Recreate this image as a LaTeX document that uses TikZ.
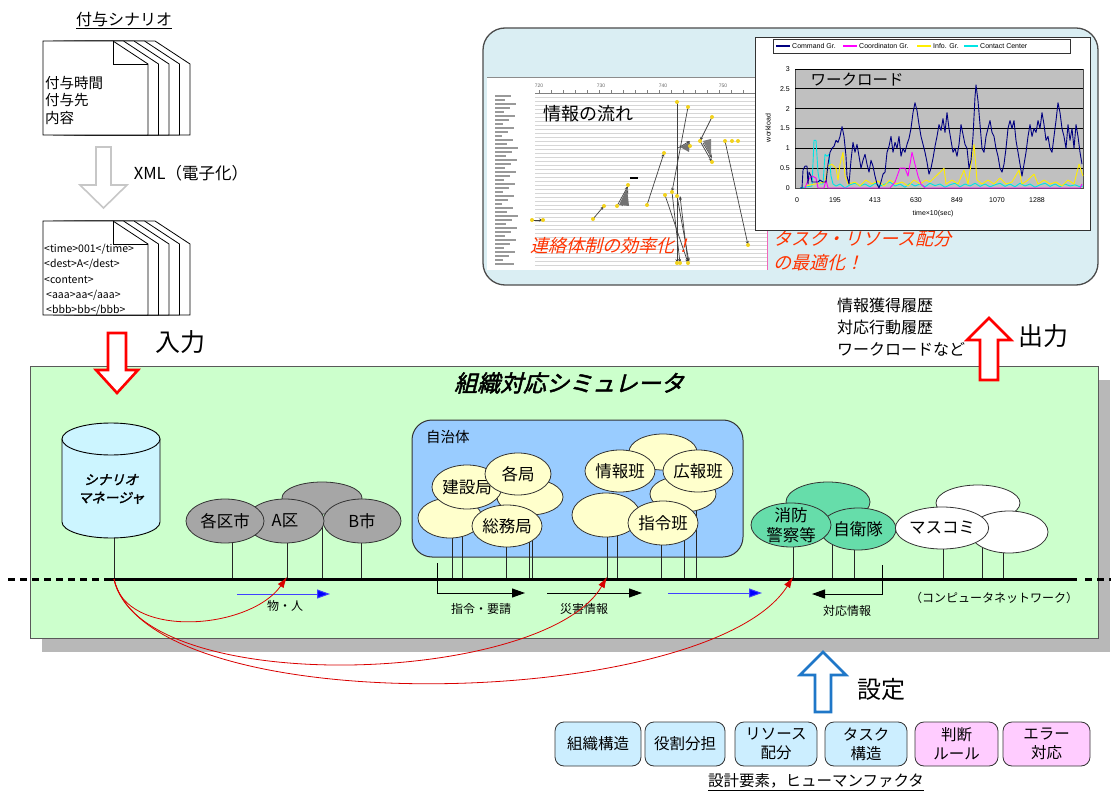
\documentclass[tikz,border=0pt]{standalone}
\usepackage{fontspec}
\setmainfont{Noto Sans CJK JP}
\newfontfamily\jpsl[FakeSlant=0.25]{Noto Sans CJK JP}
\newfontfamily\jpbs[FakeSlant=0.25,FakeBold=2]{Noto Sans CJK JP}
\newfontfamily\lsans{Liberation Sans}
\usetikzlibrary{shapes.geometric,arrows.meta}
\pgfdeclarelayer{bg}
\pgfdeclarelayer{mid}
\pgfsetlayers{bg,mid,main}
\definecolor{boxgreen}{HTML}{CCFFCC}
\definecolor{shadowgrey}{HTML}{B8B8B8}
\definecolor{cylcol}{HTML}{CCF5FF}
\definecolor{greyell}{HTML}{A6A6A6}
\definecolor{jichi}{HTML}{99CCFF}
\definecolor{yell}{HTML}{FFFFCC}
\definecolor{mint}{HTML}{66DDAA}
\definecolor{panel}{HTML}{DAEEF3}
\definecolor{boxblue}{HTML}{CCEEFF}
\definecolor{boxpink}{HTML}{FFCCFF}
\definecolor{setblue}{HTML}{1F77C8}
\definecolor{redtxt}{HTML}{FF3300}
\definecolor{navyline}{HTML}{000080}
\definecolor{plotgrey}{HTML}{C0C0C0}
\definecolor{ydot}{HTML}{F2D21E}
\definecolor{lgmag}{HTML}{FF00FF}
\definecolor{lgyel}{HTML}{FFEE00}
\definecolor{lgcyan}{HTML}{00E5E5}
\begin{document}
\begin{tikzpicture}[x=1pt,y=-1pt,
  ell/.style={ellipse, draw=black!80, line width=0.8pt, inner sep=0pt, font=\fontsize{16.5}{18}\selectfont},
  gell/.style={ell, fill=greyell},
  yel/.style={ell, fill=yell},
  mel/.style={ell, fill=mint},
  wel/.style={ell, fill=white},
  drop/.style={draw=black!85, line width=0.8pt},
  flowarr/.style={line width=1pt, -{Triangle[length=13pt,width=9pt]}},
  smalllbl/.style={font=\fontsize{12}{14}\selectfont, inner sep=1pt},
  hollow/.style={line width=2.6pt, fill=white, line join=miter},
  designbox/.style={draw=black!80, line width=0.8pt, rounded corners=9pt, minimum height=44pt, align=center, font=\fontsize{15.5}{19}\selectfont, inner sep=1pt},
  redcurve/.style={draw=red!85!black, line width=0.8pt, -{Latex[length=11pt,width=7pt]}},
  infoarr/.style={draw=black!75, line width=0.7pt, -{Stealth[length=4pt,width=3pt]}},
  tiny/.style={font=\lsans\fontsize{7}{8}\selectfont, inner sep=1pt},
  dataline/.style={line width=0.9pt, line join=round}
]
\useasboundingbox (0,0) rectangle (1111,794);

% ---------- background layer ----------
\begin{pgfonlayer}{bg}
  \fill[white] (0,0) rectangle (1111,794);
  \fill[shadowgrey] (42,380) rectangle (1110,652);
  \draw[fill=boxgreen, draw=black!65, line width=1pt] (30,366) rectangle (1098,638);
  \node[draw=black!80, line width=1pt, fill=jichi, rounded corners=20pt, minimum width=331pt, minimum height=137pt, inner sep=0pt] (jichitai) at (577.5,488.5) {};
\end{pgfonlayer}

% ---------- scenario documents ----------
\node[font=\fontsize{16}{18}\selectfont] (fuyotitle) at (124,20) {\underline{付与シナリオ}};
\foreach \dy in {0,180} {
  \foreach \k in {4,3,2,1,0} {
    \draw[fill=white, line width=0.8pt] ({43+10.5*\k},{135+\dy}) -- ({43+10.5*\k},{41+\dy}) -- ({113+10.5*\k},{41+\dy}) -- ({148+10.5*\k},{64+\dy}) -- ({148+10.5*\k},{135+\dy}) -- cycle;
  }
  \draw[line width=0.8pt] (113,{41+\dy}) -- (113,{64+\dy}) -- (148,{64+\dy});
}
\node[anchor=west, align=left, font=\fontsize{14.5}{17.5}\selectfont, inner sep=1pt] (doc1txt) at (44,100) {付与時間\\付与先\\内容};
\node[anchor=west, align=left, font=\fontsize{10.5}{15.3}\selectfont, inner sep=1pt] (doc2txt) at (43,280) {<time>001</time>\\<dest>A</dest>\\<content>\\\hspace{2pt}<aaa>aa</aaa>\\\hspace{2pt}<bbb>bb</bbb>};

% grey hollow arrow
\draw[line width=1.6pt, draw=black!22, fill=white] (96,147) -- (111,147) -- (111,185) -- (127,185) -- (103.5,208) -- (80,185) -- (96,185) -- cycle;
\node[font=\fontsize{16.5}{18}\selectfont] (xmltxt) at (191,173) {XML（電子化）};

% input arrow
\draw[hollow, draw=red] (108,333) -- (126,333) -- (126,370) -- (138,370) -- (117,393) -- (96,370) -- (108,370) -- cycle;
\node[font=\fontsize{25}{28}\selectfont] (nyuryoku) at (180,342) {入力};

% ---------- output panel ----------
\draw[fill=panel, draw=black!70, line width=1.3pt, rounded corners=22pt] (483,28) rectangle (1098,285);
\fill[white] (487,78) rectangle (767,270);
\draw[black!45, line width=1pt] (487,78) -- (767,78);
\foreach \yy in {97,101,...,268} \draw[black!16, line width=0.5pt] (535,\yy) -- (767,\yy);
\foreach \yy in {96,100,...,266} {
  \pgfmathsetmacro\w{7+mod(\yy*7,17)}
  \draw[black!40, line width=2pt] (495,\yy) -- ++(\w,0);
}
\draw[black!50, line width=0.6pt] (535,93) -- (767,93);
\foreach \xx in {539,551,...,767} \draw[black!50, line width=0.5pt] (\xx,93) -- (\xx,90);
\foreach \xx/\t in {539/720,601/730,663/740,723/750} \node[font=\lsans\fontsize{5}{5}\selectfont, text=black!60, inner sep=0pt] (ax\t) at (\xx,86) {\t};
% flow arrows
\foreach \a/\b in {{532,220}/{543,220},{593,219}/{604,206},{647,205}/{664,153},{677,102}/{677,263},{688,107}/{672,192},{665,195}/{688,263},{672,192}/{680,263},{677,196}/{689,262},{700,141}/{712,162},{712,117}/{700,141},{725,141}/{748,245},{688,263}/{680,196},{617,206}/{628,186},{622,206}/{628,190},{678,148}/{690,141},{703,143}/{712,158}}
  \draw[infoarr] (\a) -- (\b);
\fill[black!55] (619,205) -- (627,188) -- (629,206) -- cycle;
\fill[black!55] (680,147) -- (690,142) -- (689,152) -- cycle;
\fill[black!50] (703,141) -- (711,139) -- (711,156) -- cycle;
\draw[line width=1.5pt] (630,178) -- (638,178);
\foreach \p in {{532,220},{543,220},{593,219},{604,206},{617,206},{628,185},{647,205},{664,153},{677,102},{688,107},{677,263},{688,263},{665,195},{672,192},{677,196},{700,141},{712,117},{712,162},{725,141},{732,141},{738,141},{748,245},{680,263},{690,146}}
  \fill[ydot] (\p) circle[radius=2];
\node[font=\fontsize{18}{20}\selectfont] (flowtitle) at (588,114) {情報の流れ};
\node[font=\jpsl\fontsize{18}{20}\selectfont, text=redtxt] (renraku) at (611,246) {連絡体制の効率化！};
\draw[magenta!60, line width=0.8pt] (767,230) -- (767,270);
\node[anchor=north west, align=left, font=\jpsl\fontsize{18}{24}\selectfont, text=redtxt, inner sep=0pt] (taskopt) at (773,231) {タスク・リソース配分\\の最適化！};

% workload chart
\draw[fill=white, draw=black!80, line width=0.8pt] (755,37) rectangle (1090,230);
\draw[fill=white, draw=black!80, line width=0.6pt] (773,39) rectangle (1070,53);
\draw[navyline, line width=1.5pt] (776,46) -- (790,46);
\node[tiny, anchor=west] (lg1) at (791,46) {Command Gr.};
\draw[lgmag, line width=1.5pt] (843,46) -- (857,46);
\node[tiny, anchor=west] (lg2) at (858,46) {Coordinaton Gr.};
\draw[lgyel, line width=1.5pt] (917,46) -- (931,46);
\node[tiny, anchor=west] (lg3) at (932,46) {Info. Gr.};
\draw[lgcyan, line width=1.5pt] (964,46) -- (978,46);
\node[tiny, anchor=west] (lg4) at (979,46) {Contact Center};
\draw[fill=plotgrey, draw=black!70, line width=0.6pt] (795,69) rectangle (1083,188);
\foreach \v in {0.5,1,1.5,2,2.5,3} \draw[black, line width=0.8pt] (795,{188-39.67*\v}) -- (1083,{188-39.67*\v});
\foreach \v/\t [count=\i] in {0/0,0.5/0.5,1/1,1.5/1.5,2/2,2.5/2.5,3/3} \node[tiny, anchor=east] (yl\i) at (791,{188-39.67*\v}) {\t};
\foreach \xx/\t [count=\i] in {797/0,835/195,875/413,916/630,957/849,997/1070,1037/1288} \node[tiny] (xl\i) at (\xx,200) {\t};
\node[tiny] (xtitle) at (933,214) {time×10(sec)};
\node[tiny, rotate=90] (ytitle) at (768,128) {workload};
\node[font=\fontsize{15.5}{18}\selectfont] (wltitle) at (857,80) {ワークロード};
\begin{scope}[shift={(0,188)}, y=39.67pt]
  \draw[dataline, lgcyan] plot coordinates {(800,0)(812,0.05)(814,1.2)(816,1.2)(818,0.4)(820,0.1)(823,0.1)(825,0.85)(827,0.8)(829,0.85)(831,0.3)(833,0.1)(836,0.05)(840,0.1)(845,0.0)(850,0.08)(855,0.12)(860,0.05)(865,0.1)(870,0.03)(875,0.12)(880,0.05)(885,0.1)(890,0.15)(895,0.05)(900,0.1)(905,0.02)(910,0.12)(915,0.05)(920,0.1)(925,0.03)(930,0.12)(935,0.06)(940,0.1)(945,0.02)(950,0.08)(955,0.12)(960,0.03)(965,0.1)(970,0.05)(975,0.12)(980,0.04)(985,0.1)(990,0.03)(995,0.08)(1000,0.12)(1005,0.04)(1010,0.1)(1015,0.03)(1020,0.12)(1025,0.05)(1030,0.1)(1035,0.02)(1040,0.08)(1045,0.12)(1050,0.04)(1055,0.1)(1060,0.03)(1065,0.1)(1070,0.05)(1075,0.08)(1080,0.03)(1083,0.05)};
  \draw[dataline, lgyel] plot coordinates {(805,0.05)(815,0.1)(825,0.15)(828,0.55)(832,0.6)(836,0.5)(838,0.2)(840,0.6)(843,0.9)(845,0.3)(848,0.1)(855,0.15)(860,0.05)(866,0.2)(872,0.1)(878,0.18)(884,0.05)(890,0.2)(896,0.1)(902,0.15)(908,0.05)(914,0.2)(920,0.1)(926,0.2)(930,0.15)(944,0.5)(946,0.1)(952,0.2)(958,0.1)(964,0.45)(968,0.1)(974,1.1)(977,0.2)(982,0.1)(988,0.2)(994,0.1)(1000,0.25)(1006,0.1)(1012,0.15)(1019,0.45)(1022,0.1)(1028,0.2)(1034,0.35)(1038,0.1)(1044,0.2)(1050,0.1)(1056,0.15)(1062,0.05)(1068,0.2)(1074,0.1)(1079,0.6)(1083,0.3)};
  \draw[dataline, lgmag] plot coordinates {(805,0)(808,0.2)(812,0.3)(816,0.25)(818,0)(824,0)(826,0.2)(828,0)(890,0)(895,0.15)(900,0.5)(905,0.5)(908,0.3)(912,0.9)(915,0.6)(918,0.3)(921,0.1)(925,0)(1080,0)(1082,0.1)};
  \draw[dataline, navyline] plot coordinates {(800,0)(802,0)(803,0.45)(805,0.55)(807,0.55)(808,0.1)(809,0.4)(811,0.3)(812,0.15)(815,0.15)(818,0.15)(820,0.2)(823,0.15)(826,0.15)(828,0.6)(830,0.9)(832,1.0)(834,1.05)(836,1.2)(838,1.15)(840,1.3)(842,1.55)(844,1.3)(846,0.8)(847,0.3)(849,0.1)(851,0.7)(853,1.15)(855,0.9)(857,1.1)(859,0.8)(861,0.5)(863,0.7)(865,0.85)(867,0.6)(869,0.4)(871,0.7)(873,0.55)(875,0.3)(877,0.1)(879,0.0)(881,0.15)(883,0.35)(885,0.4)(887,0.9)(889,1.05)(891,1.3)(893,0.9)(895,1.15)(897,1.0)(899,1.3)(901,0.8)(903,1.0)(905,0.9)(907,1.1)(909,1.25)(911,1.5)(913,1.9)(915,2.15)(917,1.95)(919,1.6)(921,1.3)(923,1.1)(925,0.9)(927,0.65)(929,0.35)(931,0.5)(933,0.75)(935,1.05)(937,1.3)(939,1.6)(941,1.45)(943,1.75)(945,1.4)(947,1.9)(949,1.5)(951,1.2)(953,0.9)(955,1.0)(957,0.8)(959,1.1)(961,1.6)(963,1.35)(965,1.1)(967,1.0)(969,0.5)(971,0.7)(973,1.3)(975,2.3)(976,2.6)(978,2.2)(980,1.6)(982,1.0)(984,0.9)(986,1.3)(988,1.5)(990,1.7)(992,1.4)(994,1.3)(996,1.0)(998,0.8)(1000,0.5)(1002,0.4)(1004,0.6)(1006,1.0)(1008,1.5)(1010,1.7)(1012,1.5)(1014,1.7)(1016,1.2)(1018,0.9)(1020,0.6)(1022,0.3)(1024,0.6)(1026,0.9)(1028,1.3)(1030,1.6)(1032,1.3)(1034,1.5)(1036,1.4)(1038,1.7)(1040,1.5)(1042,1.9)(1044,1.6)(1046,1.2)(1048,1.3)(1050,1.0)(1052,0.9)(1054,1.3)(1056,1.7)(1058,2.15)(1060,1.9)(1062,1.5)(1064,1.3)(1066,1.0)(1068,1.6)(1070,1.2)(1072,1.5)(1074,1.0)(1076,1.6)(1078,1.3)(1080,0.9)(1082,0.6)};
\end{scope}

% output text and arrow
\node[anchor=west, align=left, font=\fontsize{16}{22}\selectfont, inner sep=0pt] (outtxt) at (837,327) {情報獲得履歴\\対応行動履歴\\ワークロードなど};
\draw[hollow, draw=red] (980,380) -- (980,340) -- (967,340) -- (989,318) -- (1011,340) -- (998,340) -- (998,380) -- cycle;
\node[font=\fontsize{25}{28}\selectfont] (shutsuryoku) at (1043,336) {出力};

% ---------- simulator ----------
\node[font=\jpbs\fontsize{23}{26}\selectfont] (simtitle) at (569,383) {組織対応シミュレータ};

% cylinder
\draw[fill=cylcol, line width=0.9pt] (62,439) -- (62,522) arc[start angle=180, end angle=0, x radius=49, y radius=16] -- (160,439) -- cycle;
\draw[fill=cylcol, line width=0.9pt] (111,439) ellipse[x radius=49, y radius=16];
\node[align=center, font=\jpbs\fontsize{13.5}{18}\selectfont] (scen) at (111,489) {シナリオ\\マネージャ};

% grey group
\node[gell, minimum width=80pt, minimum height=32pt] (gtop) at (322,498) {};
\node[gell, minimum width=78pt, minimum height=44pt] (bshi) at (362,521) {B市};
\node[gell, minimum width=78pt, minimum height=44pt] (aku) at (285,521) {A区};
\node[gell, minimum width=78pt, minimum height=44pt] (kakushi) at (225,521) {各区市};
\node[font=\fontsize{14.5}{16}\selectfont, anchor=west, inner sep=0pt] (jichilbl) at (426,437) {自治体};

% yellow group left
\node[yel, minimum width=64pt, minimum height=40pt] (ya) at (450,518) {};
\node[yel, minimum width=66pt, minimum height=36pt] (yb) at (530,497) {};
\node[yel, minimum width=66pt, minimum height=44pt] (kensetsu) at (467,487) {建設局};
\node[yel, minimum width=66pt, minimum height=42pt] (kakukyoku) at (518,474) {各局};
\node[yel, minimum width=68pt, minimum height=42pt] (somu) at (507,526) {総務局};
% yellow group right
\node[yel, minimum width=68pt, minimum height=36pt] (yc) at (663,452) {};
\node[yel, minimum width=66pt, minimum height=36pt] (yd) at (683,494) {};
\node[yel, minimum width=68pt, minimum height=44pt] (ye) at (606,515) {};
\node[yel, minimum width=70pt, minimum height=42pt] (jouhou) at (620,471) {情報班};
\node[yel, minimum width=68pt, minimum height=42pt] (kouhou) at (698,471) {広報班};
\node[yel, minimum width=68pt, minimum height=44pt] (shirei) at (663,523) {指令班};

% green group
\node[mel, minimum width=84pt, minimum height=40pt] (gt) at (828,502) {};
\node[mel, minimum width=76pt, minimum height=42pt] (jieitai) at (858,529) {自衛隊};
\node[mel, minimum width=80pt, minimum height=44pt] (shobo) at (791,525) {};
\node[align=center, font=\fontsize{16.5}{20}\selectfont, inner sep=0pt] (shobotxt) at (shobo) {消防\\警察等};

% white group
\node[wel, minimum width=84pt, minimum height=36pt] (wt) at (978,503) {};
\node[wel, minimum width=78pt, minimum height=42pt] (wr) at (1009,532) {};
\node[wel, minimum width=84pt, minimum height=42pt] (masukomi) at (942,528) {マスコミ};

% network
\coordinate (netS) at (8,579);
\coordinate (netL) at (110,579);
\coordinate (netR) at (1077,579);
\coordinate (netE) at (1111,579);
\draw[line width=3pt, dash pattern=on 7pt off 5pt] (netS) -- (netL);
\draw[line width=3pt] (netL) -- (netR);
\draw[line width=3pt, dash pattern=on 7pt off 5pt] ([xshift=8pt]netR) -- (netE);

% drop lines
\foreach \x/\n [count=\i] in {114/scen,232/kakushi,287/aku,322/gtop,361/bshi,452/ya,462/ya,506/somu,529/yb,532/yb,607/ye,617/ye,661/shirei,684/yd,696/kouhou,793/shobo,832/jieitai,854/jieitai,943/masukomi,982/wr,1003/wr}
  \coordinate (d\i) at (\x,579);
\begin{pgfonlayer}{mid}
\foreach \n [count=\i] in {scen,kakushi,aku,gtop,bshi,ya,ya,somu,yb,yb,ye,ye,shirei,yd,kouhou,shobo,jieitai,jieitai,masukomi,wr,wr}
  \draw[drop] (d\i) -- (d\i |- \n);
\end{pgfonlayer}

% flow arrows under the network
\coordinate (a1s) at (237,594); \coordinate (a1e) at (330,594);
\coordinate (a2s) at (437,563); \coordinate (a2e) at (525,593);
\coordinate (a3s) at (547,593); \coordinate (a3e) at (642,593);
\coordinate (a4s) at (668,593); \coordinate (a4e) at (762,593);
\coordinate (a5s) at (882,565); \coordinate (a5e) at (812,594);
\draw[flowarr, blue!75, -{Triangle[length=13pt,width=9pt,fill=blue]}] (a1s) -- (a1e);
\draw[flowarr] (a2s) |- (a2e);
\draw[flowarr] (a3s) -- (a3e);
\draw[flowarr, blue!75, -{Triangle[length=13pt,width=9pt,fill=blue]}] (a4s) -- (a4e);
\draw[flowarr] (a5s) |- (a5e);
\node[smalllbl] (lbl1) at (285,606) {物・人};
\node[smalllbl] (lbl2) at (481,609) {指令・要請};
\node[smalllbl] (lbl3) at (584,609) {災害情報};
\node[smalllbl] (lbl4) at (847,611) {対応情報};
\node[smalllbl] (lbl5) at (994,598) {（コンピュータネットワーク）};

% red scenario curves
\draw[redcurve] (d1) .. controls (125,640) and (250,630) .. ([yshift=2pt]d3);
\draw[redcurve] (d1) .. controls (140,700) and (545,685) .. ([yshift=2pt]d11);
\draw[redcurve] (d1) .. controls (150,725) and (710,710) .. ([yshift=2pt]d16);

% ---------- settings ----------
\draw[hollow, draw=setblue] (815,712) -- (815,675) -- (800,675) -- (823,652) -- (846,675) -- (831,675) -- (831,712) -- cycle;
\node[font=\fontsize{24}{28}\selectfont] (settei) at (881,689) {設定};
\node[designbox, fill=boxblue, minimum width=86pt] (b1) at (598,744) {組織構造};
\node[designbox, fill=boxblue, minimum width=80pt] (b2) at (685,744) {役割分担};
\node[designbox, fill=boxblue, minimum width=82pt] (b3) at (776,744) {リソース\\配分};
\node[designbox, fill=boxblue, minimum width=82pt] (b4) at (866,744) {タスク\\構造};
\node[designbox, fill=boxpink, minimum width=83pt] (b5) at (956.5,744) {判断\\ルール};
\node[designbox, fill=boxpink, minimum width=87pt] (b6) at (1046.5,744) {エラー\\対応};
\node[font=\fontsize{15.5}{18}\selectfont] (designlbl) at (816,782) {\underline{設計要素，ヒューマンファクタ}};
\end{tikzpicture}
\end{document}
